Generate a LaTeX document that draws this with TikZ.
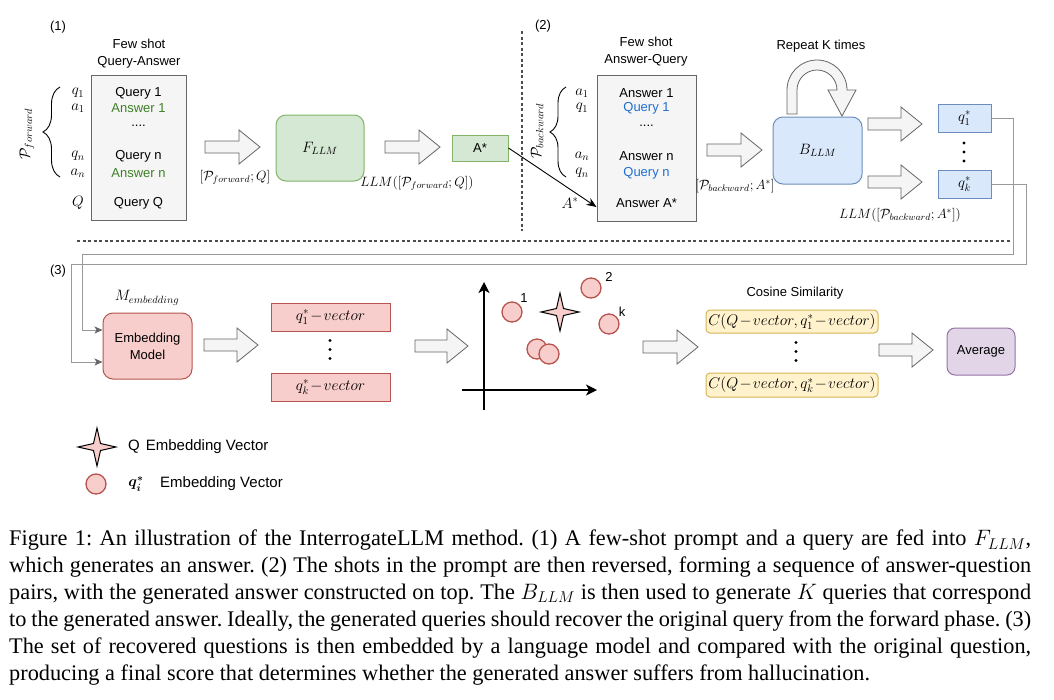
\RequirePackage{fix-cm}
\documentclass[tikz,border=0pt]{standalone}
\usepackage{amsmath}
\usepackage[no-math]{fontspec}
\setmainfont{Liberation Serif}
\newfontfamily\arial{Liberation Sans}
\usetikzlibrary{arrows.meta,decorations.pathreplacing}

\definecolor{grayfill}{HTML}{F5F5F5}
\definecolor{graystroke}{HTML}{666666}
\definecolor{gfill}{HTML}{D5E8D4}
\definecolor{gstroke}{HTML}{82B366}
\definecolor{bfill}{HTML}{DAE8FC}
\definecolor{bstroke}{HTML}{6C8EBF}
\definecolor{rfill}{HTML}{F8CECC}
\definecolor{rstroke}{HTML}{B85450}
\definecolor{yfill}{HTML}{FFF2CC}
\definecolor{ystroke}{HTML}{D6B656}
\definecolor{pfill}{HTML}{E1D5E7}
\definecolor{pstroke}{HTML}{9673A6}
\definecolor{ansgreen}{HTML}{3C8025}
\definecolor{qblue}{HTML}{1F6FD0}
\definecolor{connline}{HTML}{999999}
\definecolor{sepline}{HTML}{4D4D4D}

\newcommand\capfnt{\rmfamily\fontsize{22.3}{26.9}\selectfont\frenchspacing}
\newcommand\tminus{\mkern1.5mu{-}\mkern1.5mu}

\tikzset{
  txt/.style={font={\arial\fontsize{13}{17}\selectfont}, inner sep=0pt},
  legtxt/.style={font={\arial\fontsize{15}{18}\selectfont}, inner sep=0pt},
  mth/.style={font={\fontsize{15}{17}\selectfont}, inner sep=0pt},
  smth/.style={font={\fontsize{13.5}{16}\selectfont}, inner sep=0pt},
  bmth/.style={font={\fontsize{15.5}{17}\selectfont}, inner sep=0pt},
  shotbox/.style={draw=graystroke, fill=grayfill, line width=1pt, inner sep=0pt},
  greenbox/.style={draw=gstroke, fill=gfill, line width=1pt, inner sep=0pt},
  bluebox/.style={draw=bstroke, fill=bfill, line width=1pt, inner sep=0pt},
  redbox/.style={draw=rstroke, fill=rfill, line width=1pt, inner sep=0pt},
  yellowbox/.style={draw=ystroke, fill=yfill, line width=1pt, inner sep=0pt, rounded corners=4pt},
  purplebox/.style={draw=pstroke, fill=pfill, line width=1pt, inner sep=0pt, rounded corners=8pt},
  blkarrow/.style={draw=graystroke, fill=grayfill, line width=0.8pt, line join=miter},
  conn/.style={draw=connline, line width=1pt, -{Stealth[length=8pt,width=7pt,inset=2pt,fill=graystroke,color=graystroke]}},
  sepdash/.style={draw=sepline, line width=1.1pt, dash pattern=on 3pt off 2.5pt},
  bracesty/.style={draw=black, line width=0.9pt, decorate},
  ptsty/.style={circle, draw=rstroke, fill=rfill, line width=1.3pt, minimum size=20pt, inner sep=0pt},
  starsty/.style={draw=black, fill=rfill, line width=1pt, line join=miter},
  axissty/.style={draw=black, line width=1.4pt, -{Stealth[length=11pt,width=11pt,inset=3pt]}},
  dotsty/.style={fill=black}
}

% block arrow: #1 left x, #2 right x, #3 centre y (pixel coordinates, y downwards)
\newcommand\blkarrow[3]{%
  \draw[blkarrow] (#1,{#3-6}) -- ({#2-21},{#3-6}) -- ({#2-21},{#3-17}) -- (#2,#3)
    -- ({#2-21},{#3+17}) -- ({#2-21},{#3+6}) -- (#1,{#3+6}) -- cycle;}
% four pointed star
\newcommand\qstar[2]{%
  \draw[starsty] (#1,{#2-19}) -- ({#1+3.5},{#2-3.5}) -- ({#1+19},#2) -- ({#1+3.5},{#2+3.5})
    -- (#1,{#2+19}) -- ({#1-3.5},{#2+3.5}) -- ({#1-19},#2) -- ({#1-3.5},{#2-3.5}) -- cycle;}
% three vertical dots
\newcommand\threedots[2]{%
  \fill[dotsty] (#1,{#2-9}) circle (1.6pt);
  \fill[dotsty] (#1,#2) circle (1.6pt);
  \fill[dotsty] (#1,{#2+9}) circle (1.6pt);}

\begin{document}
\begin{tikzpicture}[x=1pt,y=-1pt]
\useasboundingbox (0,0) rectangle (1054,699);
\fill[white] (0,0) rectangle (1054,699);

% ================= (1) forward =================
\node[txt] (lab1) at (58,27) {(1)};
\node[txt, align=center] (ttl1) at (139,53.5) {Few shot\\Query-Answer};
\node[shotbox, minimum width=95pt, minimum height=145pt] (fqbox) at (138.5,147.5) {};
\node[txt] (fq1) at (138.5,93) {Query 1};
\node[txt, text=ansgreen] (fq2) at (138.5,108) {Answer 1};
\node[txt] (fq3) at (138.5,126) {....};
\node[txt] (fq4) at (138.5,156) {Query n};
\node[txt, text=ansgreen] (fq5) at (138.5,173) {Answer n};
\node[txt] (fq6) at (138.5,203) {Query Q};
\node[mth] (lq1) at (78,93) {$q_1$};
\node[mth] (la1) at (78,108) {$a_1$};
\node[mth] (lqn) at (78,156) {$q_n$};
\node[mth] (lan) at (78,173) {$a_n$};
\node[mth] (lQ) at (78,203) {$Q$};
\coordinate (br1b) at (60,177);
\coordinate (br1t) at (60,87);
\draw[bracesty, decoration={brace, amplitude=17pt}] (br1b) -- (br1t);
\node[mth, rotate=90] (pfw) at (27,134) {$\mathcal{P}_{forward}$};

\blkarrow{205}{260}{147}
\node[smth] (lblin1) at (235,177) {$[\mathcal{P}_{forward};Q]$};
\node[greenbox, rounded corners=10pt, minimum width=88pt, minimum height=66pt] (fllm) at (320,148) {};
\node[mth] (fllmt) at (320,148) {$F_{LLM}$};
\blkarrow{385}{440}{147}
\node[smth] (lblout1) at (417,183) {$LLM([\mathcal{P}_{forward};Q])$};
\node[greenbox, minimum width=56pt, minimum height=26pt] (astar) at (480,148) {};
\node[txt] (astart) at (480,148) {A*};

% separator
\coordinate (sv1) at (522,31);
\coordinate (sv2) at (522,231);
\draw[sepdash] (sv1) -- (sv2);

% ================= (2) backward =================
\node[txt] (lab2) at (543,26) {(2)};
\node[txt, align=center] (ttl2) at (646,52) {Few shot\\Answer-Query};
\node[shotbox, minimum width=99pt, minimum height=146pt] (fabox) at (646.5,148) {};
\node[txt] (fa1) at (646.5,93) {Answer 1};
\node[txt, text=qblue] (fa2) at (646.5,108) {Query 1};
\node[txt] (fa3) at (646.5,126) {....};
\node[txt] (fa4) at (646.5,156) {Answer n};
\node[txt, text=qblue] (fa5) at (646.5,173) {Query n};
\node[txt] (fa6) at (646.5,203) {Answer A*};
\node[mth] (la1b) at (582,93) {$a_1$};
\node[mth] (lq1b) at (582,108) {$q_1$};
\node[mth] (lanb) at (582,156) {$a_n$};
\node[mth] (lqnb) at (582,173) {$q_n$};
\coordinate (br2b) at (566,177);
\coordinate (br2t) at (566,87);
\draw[bracesty, decoration={brace, amplitude=16pt}] (br2b) -- (br2t);
\node[mth, rotate=90] (pbw) at (537,131) {$\mathcal{P}_{backward}$};
\node[mth] (lastar) at (570,203) {$A^{*}$};
\draw[line width=0.9pt, -{Stealth[length=10pt,width=8pt]}] (astar.east) -- ([yshift=-4pt]fabox.west |- fa6);

\blkarrow{707}{762}{150}
\node[smth] (lblin2) at (735,186) {$[\mathcal{P}_{backward};A^{*}]$};
\node[bluebox, rounded corners=10pt, minimum width=89pt, minimum height=67pt] (bllm) at (817.5,150.5) {};
\node[mth] (bllmt) at (817.5,150.5) {$B_{LLM}$};
\node[txt] (rep) at (821,46) {Repeat K times};
\draw[blkarrow] (787,114) -- (787,90) .. controls (787,73.4) and (800.4,60) .. (817,60)
  .. controls (833.6,60) and (847,73.4) .. (847,90) -- (856,90) -- (842,116) -- (828,90) -- (837,90)
  .. controls (837,79) and (828,70) .. (817,70) .. controls (806,70) and (797,79) .. (797,90)
  -- (797,114) -- cycle;

\blkarrow{868}{922}{124}
\blkarrow{868}{922}{182}
\node[bluebox, minimum width=53pt, minimum height=28pt] (q1s) at (964.5,118) {};
\node[mth] (q1st) at (964.5,118) {$q_1^{*}$};
\node[bluebox, minimum width=53pt, minimum height=28pt] (qks) at (964.5,184) {};
\node[mth] (qkst) at (964.5,184) {$q_k^{*}$};
\threedots{964}{152}
\node[smth] (lblout2) at (900,215) {$LLM([\mathcal{P}_{backward};A^{*}])$};

% separator
\coordinate (sh1) at (77,241);
\coordinate (sh2) at (1010,241);
\draw[sepdash] (sh1) -- (sh2);

% ================= (3) embedding =================
\node[txt] (lab3) at (58,271) {(3)};
\node[mth] (memb) at (147,298) {$M_{embedding}$};
\node[redbox, rounded corners=10pt, minimum width=89pt, minimum height=66pt] (emb) at (147.5,346) {};
\node[txt, align=center] (embt) at (147.5,346) {Embedding\\Model};

\draw[conn] (q1s.east) -| (1013,254) -| (82,330) -- ([yshift=16pt]emb.west);
\draw[conn] (qks.east) -| (1026,264) -| (71,362) -- ([yshift=-16pt]emb.west);

\blkarrow{204}{258}{345}
\node[redbox, minimum width=119pt, minimum height=28pt] (q1v) at (330.5,317) {};
\node[bmth] (q1vt) at (330.5,317) {$q_1^{*}\tminus vector$};
\node[redbox, minimum width=119pt, minimum height=28pt] (qkv) at (330.5,387) {};
\node[bmth] (qkvt) at (330.5,387) {$q_k^{*}\tminus vector$};
\threedots{330}{349.5}

\blkarrow{415}{468}{346}
% scatter
\coordinate (ya0) at (484,410);
\coordinate (ya1) at (484,282);
\coordinate (xa0) at (462,390);
\coordinate (xa1) at (597,390);
\draw[axissty] (ya0) -- (ya1);
\draw[axissty] (xa0) -- (xa1);
\node[ptsty] (p1) at (512,312) {};
\node[ptsty] (p2) at (591,288) {};
\node[ptsty] (pk) at (609,324) {};
\node[ptsty] (p3) at (537,349) {};
\node[ptsty] (p4) at (549,354) {};
\qstar{560}{312}
\node[txt] (n1) at (524,298) {1};
\node[txt] (n2) at (609,277) {2};
\node[txt] (nk) at (622,312) {k};

\blkarrow{643}{698}{347}
\node[txt] (cos) at (795,293) {Cosine Similarity};
\node[yellowbox, minimum width=172pt, minimum height=23pt] (cs1) at (792,321.5) {};
\node[bmth] (cs1t) at (792,321.5) {$C(Q\tminus vector,q_1^{*}\tminus vector)$};
\node[yellowbox, minimum width=172pt, minimum height=24pt] (csk) at (792,385) {};
\node[bmth] (cskt) at (792,385) {$C(Q\tminus vector,q_k^{*}\tminus vector)$};
\threedots{796}{351.5}

\blkarrow{879}{933}{350}
\node[purplebox, minimum width=68pt, minimum height=47pt] (avg) at (981,351.5) {};
\node[txt] (avgt) at (981,351.5) {Average};

% legend
\qstar{97}{447}
\node[legtxt, anchor=west] (legq) at (128,447) {Q\hspace{6pt}Embedding Vector};
\node[ptsty] (legc) at (96,484) {};
\node[font={\fontsize{15}{17}\selectfont}, inner sep=0pt] (legqi) at (136,484) {$\boldsymbol{q_i^{*}}$};
\node[legtxt, anchor=west] (legt2) at (160,484) {Embedding Vector};

% caption
\node[anchor=base west, inner sep=0pt, font=\capfnt] (cap1) at (9,545.7) {\makebox[1022pt][s]{Figure 1: An illustration of the InterrogateLLM method. (1) A few-shot prompt and a query are fed into $F_{LLM}$,}};
\node[anchor=base west, inner sep=0pt, font=\capfnt] (cap2) at (9,572.6) {\makebox[1022pt][s]{which generates an answer. (2) The shots in the prompt are then reversed, forming a sequence of answer-question}};
\node[anchor=base west, inner sep=0pt, font=\capfnt] (cap3) at (9,599.5) {\makebox[1022pt][s]{pairs, with the generated answer constructed on top. The $B_{LLM}$ is then used to generate $K$ queries that correspond}};
\node[anchor=base west, inner sep=0pt, font=\capfnt] (cap4) at (9,626.4) {\makebox[1022pt][s]{to the generated answer. Ideally, the generated queries should recover the original query from the forward phase. (3)}};
\node[anchor=base west, inner sep=0pt, font=\capfnt] (cap5) at (9,653.3) {\makebox[1022pt][s]{The set of recovered questions is then embedded by a language model and compared with the original question,}};
\node[anchor=base west, inner sep=0pt, font=\capfnt] (cap6) at (9,680.2) {producing a final score that determines whether the generated answer suffers from hallucination.};
\end{tikzpicture}
\end{document}
